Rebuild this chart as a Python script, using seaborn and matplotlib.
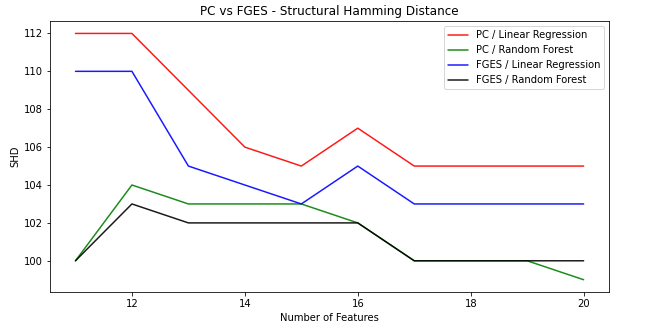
import matplotlib
matplotlib.use("Agg")
import matplotlib.pyplot as plt
import seaborn as sns
import pandas as pd

features = [11, 12, 13, 14, 15, 16, 17, 18, 19, 20]
pc_lr = [112, 112, 109, 106, 105, 107, 105, 105, 105, 105]
pc_rf = [100, 104, 103, 103, 103, 102, 100, 100, 100, 99]
fges_lr = [110, 110, 105, 104, 103, 105, 103, 103, 103, 103]
fges_rf = [100, 103, 102, 102, 102, 102, 100, 100, 100, 100]

series = {
    "PC / Linear Regression": pc_lr,
    "PC / Random Forest": pc_rf,
    "FGES / Linear Regression": fges_lr,
    "FGES / Random Forest": fges_rf,
}
colors = ["red", "green", "blue", "black"]

rows = []
for name, vals in series.items():
    for x, y in zip(features, vals):
        rows.append({"Number of Features": x, "SHD": y, "Method": name})
df = pd.DataFrame(rows)

sns.set_style("ticks", {"axes.edgecolor": "black", "xtick.color": "black",
                        "ytick.color": "black", "text.color": "black",
                        "axes.labelcolor": "black"})
plt.rcParams['font.family'] = ['DejaVu Sans']

fig, ax = plt.subplots(figsize=(650/72, 330/72), dpi=72)
sns.lineplot(data=df, x="Number of Features", y="SHD", hue="Method",
             palette=colors, ax=ax, linewidth=1.5, alpha=0.9)
ax.set_title("PC vs FGES - Structural Hamming Distance", fontsize=12)
ax.set_xlabel("Number of Features", fontsize=10)
ax.set_ylabel("SHD", fontsize=10)
ax.tick_params(labelsize=10)
ax.set_xticks([12, 14, 16, 18, 20])
ax.set_yticks([100, 102, 104, 106, 108, 110, 112])
ax.set_xlim(10.55, 20.45)
ax.set_ylim(98.35, 112.65)
leg = ax.legend(title=None, loc="upper right", fontsize=10)
fig.subplots_adjust(left=0.077, right=0.937, top=0.936, bottom=0.115)
fig.savefig("out.png", dpi=72)
